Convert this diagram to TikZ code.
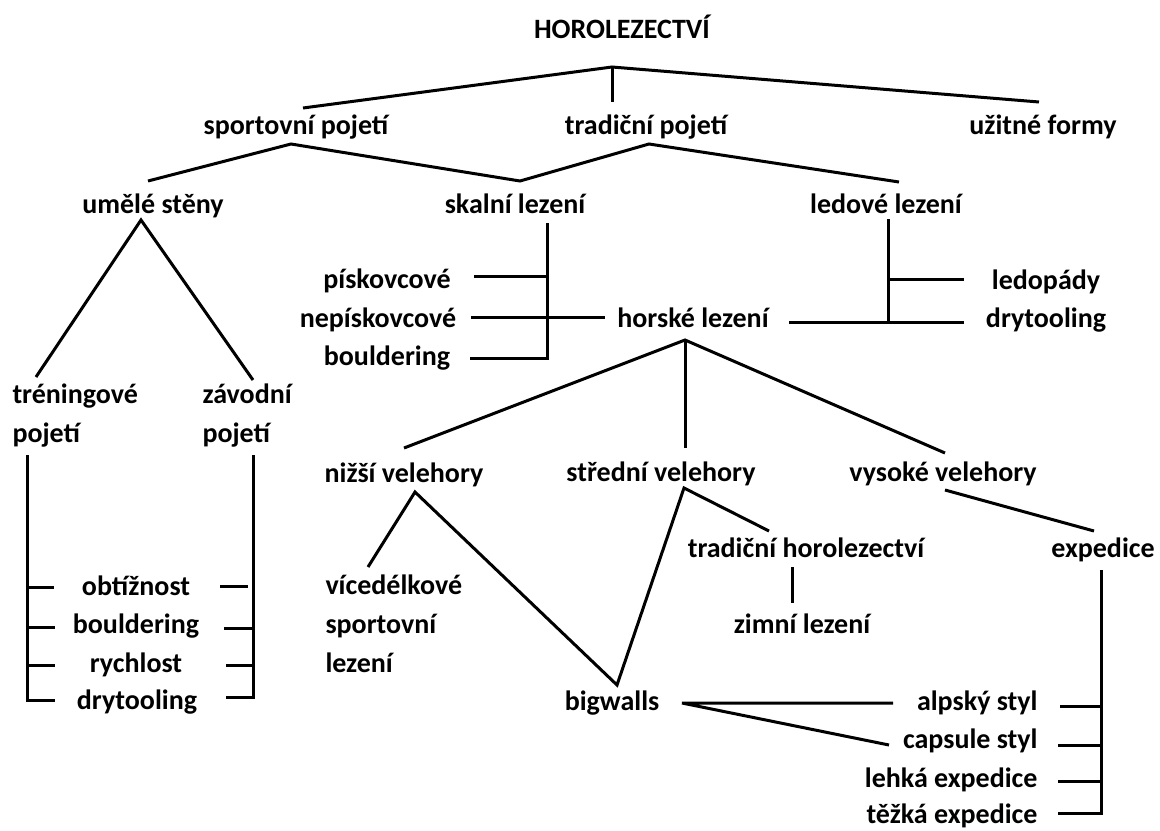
\documentclass[tikz,border=0pt]{standalone}
\usepackage{fontspec}
\setmainfont{Carlito}
\usetikzlibrary{calc}
\newcommand\lblfont{\fontsize{14pt}{19.3pt}\selectfont\bfseries}
\tikzset{
  lbl/.style={font=\lblfont, inner sep=0pt, text height=9pt, text depth=3pt},
  stack/.style={font=\lblfont, inner sep=0pt, align=left, anchor=base west},
  rlbl/.style={lbl, anchor=east}
}

\begin{document}
\begin{tikzpicture}[x=0.5pt, y=-0.5pt, line width=1.5pt]
  \useasboundingbox (0,0) rectangle (1160,830);

  % labels
  \node[lbl] (horo) at (622,32) {HOROLEZECTVÍ};
  \node[lbl] (sport) at (296,128) {sportovní pojetí};
  \node[lbl] (tradp) at (646,128) {tradiční pojetí};
  \node[lbl] (uzit) at (1043,128) {užitné formy};
  \node[lbl] (umele) at (153,207) {umělé stěny};
  \node[lbl] (skalni) at (515,207) {skalní lezení};
  \node[lbl] (ledove) at (886,207) {ledové lezení};
  \node[lbl] (pisk) at (387,282) {pískovcové};
  \node[lbl] (nepisk) at (378,321) {nepískovcové};
  \node[lbl] (bould) at (387,359) {bouldering};
  \node[lbl] (horske) at (693,321) {horské lezení};
  \node[lbl] (ledopady) at (1046,283) {ledopády};
  \node[lbl] (drytool) at (1046,321) {drytooling};
  \node[stack] (trening) at (11,442) {tréningové\\pojetí};
  \node[stack] (zavod) at (201,442) {závodní\\pojetí};
  \node[lbl] (nizsi) at (404,476) {nižší velehory};
  \node[lbl] (stredni) at (661,475) {střední velehory};
  \node[lbl] (vysoke) at (943,475) {vysoké velehory};
  \node[lbl] (tradh) at (806,551) {tradiční horolezectví};
  \node[lbl] (exped) at (1103,551) {expedice};
  \node[stack] (vicedel) at (324,672) {vícedélkové\\sportovní\\lezení};
  \node[lbl] (zimni) at (802,627) {zimní lezení};
  \node[lbl] (obtiz) at (136,589) {obtížnost};
  \node[lbl] (bouldz) at (136,627) {bouldering};
  \node[lbl] (rychl) at (136,666) {rychlost};
  \node[lbl] (drytz) at (137,703) {drytooling};
  \node[lbl] (bigw) at (612,704) {bigwalls};
  \node[rlbl] (alp) at (1039,704) {alpský styl};
  \node[rlbl] (caps) at (1039,742) {capsule styl};
  \node[rlbl] (lehka) at (1039,781) {lehká expedice};
  \node[rlbl] (tezka) at (1039,817) {těžká expedice};

  % top levels
  \coordinate (top-j) at ($(horo)+(-10,35)$);
  \draw ($(sport)+(7,-20)$) -- (top-j) -- ($(uzit)+(-4,-26)$);
  \draw (top-j) -- ($(tradp)+(-34,-26)$);
  \draw ($(umele)+(-5,-26)$) -- ($(sport)+(-5,16)$) -- ($(skalni)+(5,-26)$)
        -- ($(tradp)+(3,16)$) -- ($(ledove)+(13,-25)$);

  % umele steny
  \draw ($(trening.base west)+(25,-65)$) -- ($(umele)+(-12,13)$)
        -- ($(zavod.base west)+(52,-62)$);
  \draw ($(trening.base west)+(16,13)$) |- ($(drytz)+(-82,-3)$);
  \draw ($(obtiz)+(-109,-2)$) -- ++(27,0);
  \draw ($(bouldz)+(-109,0)$) -- ++(28,0);
  \draw ($(rychl)+(-109,-1)$) -- ++(28,0);
  \draw ($(zavod.base west)+(52,13)$) |- ($(drytz)+(89,-6)$);
  \draw ($(obtiz)+(84,-3)$) -- ++(28,0);
  \draw ($(bouldz)+(88,1)$) -- ++(29,0);
  \draw ($(rychl)+(90,-1)$) -- ++(27,0);

  % skalni a ledove lezeni
  \draw ($(skalni)+(32,16)$) |- ($(bould)+(83,-1)$);
  \draw ($(pisk)+(87,-6)$) -- ++(73,0);
  \draw ($(nepisk)+(93,-4)$) -- ($(horske)+(-88,-4)$);
  \draw ($(horske)+(96,1)$) -- ($(drytool)+(-82,1)$);
  \draw ($(ledove)+(2,12)$) -- ++(0,103);
  \draw ($(ledopady)+(-158,-4)$) -- ($(ledopady)+(-82,-4)$);

  % horske lezeni
  \coordinate (horske-j) at ($(horske)+(-8,19)$);
  \draw ($(nizsi)+(0,-28)$) -- (horske-j) -- ($(vysoke)+(2,-22)$);
  \draw (horske-j) -- ($(stredni)+(24,-27)$);
  \draw ($(vicedel.base west)+(44,-105)$) -- ($(nizsi)+(11,16)$) -- ($(bigw)+(5,-19)$)
        -- ($(stredni)+(23,13)$) -- ($(tradh)+(-37,-20)$);
  \draw ($(vysoke)+(2,15)$) -- ($(exped)+(-9,-20)$);
  \draw ($(tradh)+(-14,16)$) -- ($(zimni)+(-10,-24)$);

  % expedice, bigwalls
  \draw ($(exped)+(-2,19)$) |- ($(tezka.east)+(19,-4)$);
  \draw ($(alp.east)+(21,2)$) -- ++(41,0);
  \draw ($(caps.east)+(19,3)$) -- ++(43,0);
  \draw ($(lehka.east)+(19,0)$) -- ++(43,0);
  \draw ($(alp.east)+(-146,-1)$) -- ($(bigw)+(70,-1)$) -- ($(caps.east)+(-150,3)$);
\end{tikzpicture}
\end{document}
